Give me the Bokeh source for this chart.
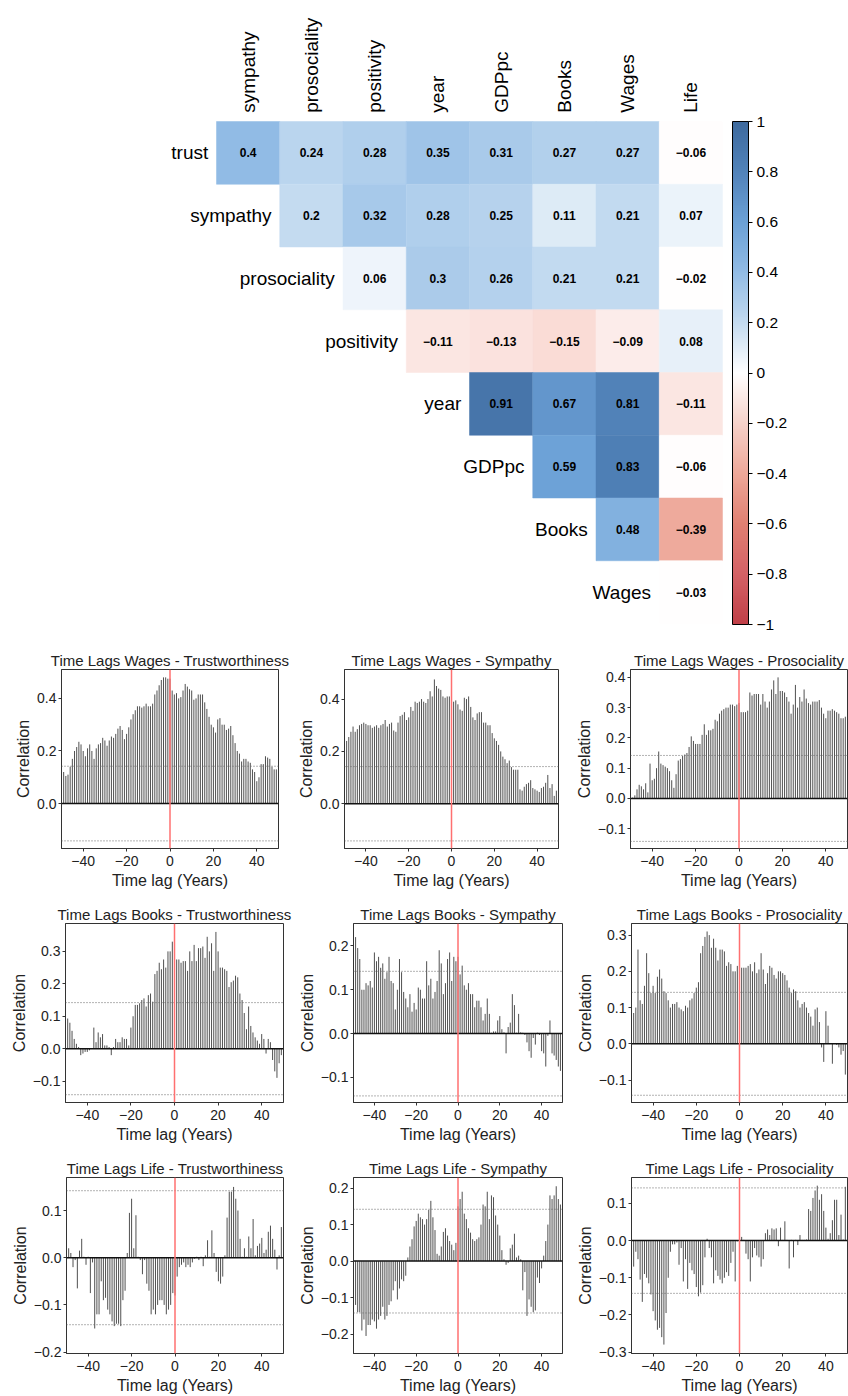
import numpy as np
from bokeh.plotting import figure
from bokeh.models import (ColumnDataSource, Range1d, LinearColorMapper, ColorBar,
                          FixedTicker, CustomJSTickFormatter, Span)
from bokeh.layouts import column, row
from bokeh.core.properties import value
from bokeh.embed import file_html
from bokeh.resources import INLINE

FONT = "Liberation Sans"

# ---------------- heatmap data ----------------
ROW_LABELS = ["trust", "sympathy", "prosociality", "positivity", "year", "GDPpc", "Books", "Wages"]
COL_LABELS = ["sympathy", "prosociality", "positivity", "year", "GDPpc", "Books", "Wages", "Life"]
corr_trust = [0.4, 0.24, 0.28, 0.35, 0.31, 0.27, 0.27, -0.06]
corr_sympathy = [0.2, 0.32, 0.28, 0.25, 0.11, 0.21, 0.07]
corr_prosociality = [0.06, 0.3, 0.26, 0.21, 0.21, -0.02]
corr_positivity = [-0.11, -0.13, -0.15, -0.09, 0.08]
corr_year = [0.91, 0.67, 0.81, -0.11]
corr_gdppc = [0.59, 0.83, -0.06]
corr_books = [0.48, -0.39]
corr_wages = [-0.03]
CORR_ROWS = [corr_trust, corr_sympathy, corr_prosociality, corr_positivity,
             corr_year, corr_gdppc, corr_books, corr_wages]
CB_TICKS = [-1, -0.8, -0.6, -0.4, -0.2, 0, 0.2, 0.4, 0.6, 0.8, 1]

# ---------------- lag panel data ----------------
LAGS = list(range(-49, 50))
SIG = 0.142
XTICKS = [-40, -20, 0, 20, 40]

wages_trust = [
    0.12, 0.105, 0.11, 0.14, 0.17, 0.20, 0.215, 0.235, 0.225, 0.20,
    0.18, 0.21, 0.225, 0.20, 0.17, 0.21, 0.225, 0.23, 0.25, 0.24,
    0.22, 0.24, 0.255, 0.25, 0.265, 0.285, 0.295, 0.28, 0.245, 0.265,
    0.29, 0.32, 0.34, 0.355, 0.37, 0.37, 0.365, 0.37, 0.38, 0.37,
    0.37, 0.38, 0.415, 0.43, 0.45, 0.47, 0.48, 0.48, 0.475,
    0.475, 0.43, 0.415, 0.42, 0.40, 0.405, 0.43, 0.455, 0.445, 0.435,
    0.43, 0.395, 0.40, 0.415, 0.415, 0.415, 0.385, 0.36, 0.33, 0.30,
    0.29, 0.27, 0.32, 0.325, 0.30, 0.30, 0.28, 0.285, 0.295, 0.26,
    0.23, 0.20, 0.19, 0.16, 0.17, 0.17, 0.16, 0.155, 0.13, 0.12,
    0.085, 0.10, 0.15, 0.15, 0.18, 0.175, 0.17, 0.14, 0.13, 0.13]
wages_sympathy = [
    0.24, 0.255, 0.275, 0.295, 0.275, 0.285, 0.30, 0.305, 0.31, 0.305,
    0.30, 0.30, 0.29, 0.295, 0.30, 0.29, 0.30, 0.305, 0.32, 0.295,
    0.305, 0.31, 0.28, 0.275, 0.31, 0.335, 0.34, 0.35, 0.32, 0.33,
    0.37, 0.355, 0.39, 0.385, 0.39, 0.40, 0.39, 0.385, 0.40, 0.43,
    0.41, 0.475, 0.45, 0.44, 0.435, 0.41, 0.405, 0.41, 0.41,
    0.405, 0.39, 0.395, 0.38, 0.36, 0.355, 0.405, 0.40, 0.41, 0.37,
    0.33, 0.32, 0.345, 0.35, 0.35, 0.31, 0.31, 0.30, 0.30, 0.27,
    0.25, 0.24, 0.225, 0.20, 0.18, 0.17, 0.155, 0.165, 0.14, 0.13,
    0.13, 0.13, 0.055, 0.05, 0.065, 0.075, 0.08, 0.09, 0.06, 0.055,
    0.05, 0.045, 0.06, 0.065, 0.08, 0.11, 0.06, 0.075, 0.03, 0.05]
wages_prosociality = [
    0.003, 0.01, 0.03, 0.045, 0.04, 0.03, 0.05, 0.02, 0.115, 0.06,
    0.065, 0.10, 0.155, 0.115, 0.11, 0.105, 0.10, 0.09, 0.06, 0.035,
    0.08, 0.125, 0.13, 0.14, 0.145, 0.15, 0.17, 0.205, 0.19, 0.18,
    0.18, 0.18, 0.21, 0.245, 0.21, 0.225, 0.225, 0.23, 0.26, 0.255,
    0.28, 0.29, 0.295, 0.30, 0.30, 0.31, 0.31, 0.305, 0.31,
    0.315, 0.285, 0.285, 0.285, 0.29, 0.35, 0.34, 0.345, 0.345, 0.345,
    0.31, 0.345, 0.32, 0.30, 0.32, 0.36, 0.39, 0.345, 0.40, 0.355,
    0.355, 0.35, 0.335, 0.32, 0.28, 0.31, 0.375, 0.30, 0.335, 0.32,
    0.36, 0.33, 0.315, 0.31, 0.32, 0.32, 0.32, 0.325, 0.30, 0.28,
    0.265, 0.29, 0.29, 0.295, 0.29, 0.285, 0.28, 0.265, 0.265, 0.27]
books_trust = [
    0.093, 0.08, 0.055, 0.03, 0.015, 0.005, -0.02, -0.015, -0.01, -0.01,
    -0.005, 0.002, 0.065, 0.02, 0.05, 0.035, 0.045, 0.01, 0.01, 0.005,
    -0.02, 0.005, 0.03, 0.02, 0.02, 0.035, 0.03, 0.03, 0.01, 0.065,
    0.10, 0.135, 0.135, 0.14, 0.15, 0.155, 0.13, 0.165, 0.17, 0.145,
    0.23, 0.24, 0.265, 0.245, 0.275, 0.25, 0.30, 0.30, 0.33,
    0.32, 0.275, 0.275, 0.265, 0.27, 0.27, 0.24, 0.30, 0.27, 0.32,
    0.27, 0.31, 0.31, 0.315, 0.28, 0.345, 0.30, 0.325, 0.24, 0.36,
    0.30, 0.25, 0.25, 0.245, 0.24, 0.19, 0.205, 0.21, 0.225, 0.22,
    0.17, 0.15, 0.11, 0.06, 0.13, 0.07, 0.05, 0.035, 0.025, 0.015,
    0.045, 0.03, -0.015, 0.03, 0.02, -0.035, -0.07, -0.09, -0.045, -0.02]
books_sympathy = [
    0.22, 0.195, 0.17, 0.10, 0.10, 0.115, 0.11, 0.12, 0.105, 0.185,
    0.165, 0.175, 0.15, 0.16, 0.125, 0.14, 0.175, 0.12, 0.115, 0.055,
    0.10, 0.17, 0.14, 0.095, 0.08, 0.06, 0.09, 0.05, 0.07, 0.055,
    0.105, 0.10, 0.08, 0.08, 0.165, 0.11, 0.125, 0.08, 0.095, 0.12,
    0.19, 0.16, 0.09, 0.115, 0.17, 0.185, 0.12, 0.175, 0.165,
    0.175, 0.135, 0.155, 0.11, 0.10, 0.115, 0.09, 0.09, 0.06, 0.075,
    0.075, 0.06, 0.03, 0.045, 0.08, 0.045, 0.002, 0.005, 0.005, 0.03,
    0.04, 0.01, 0.003, -0.045, 0.015, 0.025, 0.09, 0.065, 0.002, 0.045,
    0.003, 0.002, -0.003, -0.02, -0.04, -0.055, -0.01, -0.025, 0.002, -0.003,
    -0.04, -0.045, -0.075, -0.005, 0.03, -0.045, -0.05, -0.06, -0.075, -0.085]
books_prosociality = [
    0.085, 0.10, 0.26, 0.12, 0.11, 0.16, 0.25, 0.195, 0.14, 0.16,
    0.14, 0.185, 0.205, 0.18, 0.145, 0.14, 0.12, 0.10, 0.11, 0.11,
    0.115, 0.10, 0.095, 0.09, 0.105, 0.10, 0.12, 0.125, 0.14, 0.155,
    0.17, 0.25, 0.27, 0.295, 0.31, 0.30, 0.265, 0.29, 0.265, 0.23,
    0.26, 0.26, 0.255, 0.215, 0.225, 0.22, 0.20, 0.20, 0.215,
    0.215, 0.21, 0.21, 0.21, 0.215, 0.22, 0.20, 0.225, 0.195, 0.205,
    0.25, 0.205, 0.165, 0.195, 0.215, 0.21, 0.19, 0.18, 0.20, 0.20,
    0.195, 0.19, 0.175, 0.155, 0.14, 0.15, 0.145, 0.12, 0.10, 0.11,
    0.115, 0.10, 0.085, 0.075, 0.05, 0.095, 0.10, 0.06, -0.01, -0.05,
    0.09, 0.05, 0.002, -0.055, 0.002, -0.003, -0.01, -0.03, -0.02, -0.085]
life_trust = [
    0.02, 0.01, -0.02, -0.005, -0.065, 0.015, 0.04, 0.002, -0.015, 0.002,
    -0.075, -0.01, -0.15, -0.12, -0.12, -0.05, -0.09, -0.085, -0.11, -0.12,
    -0.135, -0.145, -0.14, -0.14, -0.145, -0.09, -0.07, 0.01, 0.095, 0.125,
    0.02, 0.09, 0.002, -0.005, -0.035, -0.005, -0.055, -0.07, -0.12, -0.11,
    -0.12, -0.10, -0.09, -0.09, -0.10, -0.12, -0.11, -0.10, -0.075,
    -0.08, -0.04, -0.02, -0.015, -0.01, -0.02, -0.015, -0.02, -0.01, -0.002,
    0.002, -0.005, 0.002, -0.018, 0.005, 0.037, 0.002, 0.058, 0.01, -0.03,
    -0.05, -0.055, -0.04, 0.005, 0.085, 0.14, 0.14, 0.15, 0.125, 0.10,
    0.04, 0.002, 0.02, 0.002, 0.045, 0.02, 0.082, 0.005, 0.025, 0.03,
    0.042, 0.01, 0.017, 0.055, 0.068, 0.04, 0.017, -0.025, 0.005, 0.065]
life_sympathy = [
    -0.12, -0.14, -0.14, -0.19, -0.16, -0.205, -0.175, -0.175, -0.16, -0.165,
    -0.185, -0.16, -0.15, -0.125, -0.16, -0.15, -0.12, -0.11, -0.08, -0.055,
    -0.105, -0.075, -0.05, -0.055, -0.04, 0.01, 0.04, 0.06, 0.095, 0.11,
    0.13, 0.12, 0.115, 0.10, 0.115, 0.14, 0.165, 0.12, 0.085, 0.02,
    0.015, 0.04, 0.08, 0.09, 0.07, 0.055, 0.045, 0.03, 0.05,
    0.15, 0.17, 0.19, 0.13, 0.115, 0.09, 0.078, 0.06, 0.055, 0.06,
    0.065, 0.10, 0.155, 0.15, 0.19, 0.115, 0.18, 0.175, 0.125, 0.10,
    0.07, 0.03, 0.005, -0.01, -0.005, 0.035, 0.045, 0.075, 0.01, 0.015,
    0.005, -0.08, -0.03, -0.15, -0.105, -0.125, -0.14, -0.135, -0.045, -0.06,
    -0.02, 0.015, 0.055, 0.10, 0.18, 0.17, 0.18, 0.205, 0.17, 0.155]
life_prosociality = [
    -0.07, -0.03, -0.05, -0.105, -0.165, -0.09, -0.10, -0.115, -0.145, -0.19,
    -0.215, -0.24, -0.235, -0.26, -0.28, -0.195, -0.10, -0.03, -0.01, -0.01,
    -0.005, -0.065, -0.02, -0.11, -0.05, -0.13, -0.06, -0.08, -0.09, -0.125,
    -0.15, -0.14, -0.12, -0.045, 0.005, -0.02, -0.045, -0.115, -0.08, -0.095,
    -0.105, -0.115, -0.10, -0.085, -0.095, -0.06, -0.03, -0.11, -0.002,
    0.015, 0.01, 0.002, -0.035, -0.05, -0.11, -0.045, -0.02, -0.04, -0.045,
    -0.07, -0.05, 0.02, 0.03, 0.015, 0.033, 0.03, 0.033, -0.015, 0.035,
    0.002, 0.052, 0.002, -0.075, 0.002, -0.045, 0.002, -0.012, 0.015, 0.002,
    0.002, 0.003, 0.085, 0.08, 0.115, 0.135, 0.148, 0.11, 0.125, 0.08,
    0.035, 0.005, 0.02, 0.055, 0.11, 0.11, 0.015, 0.07, 0.003, 0.145]

PANEL_TITLES = [
    "Time Lags Wages - Trustworthiness", "Time Lags Wages - Sympathy", "Time Lags Wages - Prosociality",
    "Time Lags Books - Trustworthiness", "Time Lags Books - Sympathy", "Time Lags Books - Prosociality",
    "Time Lags Life - Trustworthiness", "Time Lags Life - Sympathy", "Time Lags Life - Prosociality"]
PANEL_VALUES = [wages_trust, wages_sympathy, wages_prosociality,
                books_trust, books_sympathy, books_prosociality,
                life_trust, life_sympathy, life_prosociality]
PANEL_YRANGES = [(-0.171, 0.51), (-0.171, 0.513), (-0.1655, 0.426),
                 (-0.166, 0.386), (-0.157, 0.251), (-0.162, 0.332),
                 (-0.203, 0.170), (-0.253, 0.229), (-0.304, 0.170)]
PANEL_YTICKS = [[0.0, 0.2, 0.4], [0.0, 0.2, 0.4], [-0.1, 0.0, 0.1, 0.2, 0.3, 0.4],
                [-0.1, 0.0, 0.1, 0.2, 0.3], [-0.1, 0.0, 0.1, 0.2], [-0.1, 0.0, 0.1, 0.2, 0.3],
                [-0.2, -0.1, 0.0, 0.1], [-0.2, -0.1, 0.0, 0.1, 0.2], [-0.3, -0.2, -0.1, 0.0, 0.1]]

# ---------------- colour maps ----------------
# cells (slightly whiter near zero on the negative side, as in the picture)
STOPS = [-1.0, -0.8, -0.6, -0.4, -0.2, -0.15, -0.09, -0.065, 0.0,
         0.2, 0.4, 0.6, 0.8, 1.0]
STOP_RGB = [(192, 64, 72), (212, 98, 102), (224, 128, 114), (238, 168, 153), (246, 210, 202),
            (250, 221, 215), (252, 236, 234), (255, 253, 253), (255, 255, 255),
            (196, 219, 240), (146, 188, 229), (108, 161, 214), (82, 131, 186),
            (62, 106, 158)]
# colour bar (smooth ramp)
CB_STOPS = [-1.0, -0.8, -0.6, -0.4, -0.2, 0.0, 0.2, 0.4, 0.6, 0.8, 1.0]
CB_RGB = [(192, 64, 72), (212, 98, 102), (224, 128, 114), (238, 168, 153), (246, 210, 202),
          (255, 255, 255), (196, 219, 240), (146, 188, 229), (108, 161, 214), (82, 131, 186),
          (62, 106, 158)]


def ramp(stops, rgb, n=256):
    g = np.linspace(-1, 1, n)
    ch_ = [np.interp(g, stops, [c[k] for c in rgb]) for k in range(3)]
    return ["#%02x%02x%02x" % (int(round(r)), int(round(gg)), int(round(b)))
            for r, gg, b in zip(*ch_)]


mapper = LinearColorMapper(palette=ramp(STOPS, STOP_RGB), low=-1, high=1)
cb_mapper = LinearColorMapper(palette=ramp(CB_STOPS, CB_RGB), low=-1, high=1)


def fmt(v):
    return f"{v:g}".replace("-", "\u2212")


# ---------------- heatmap figure ----------------
HW, HH = 848, 648
cw, ch = 63.25, 62.75
x0px, y0px = 216, 121
heat = figure(width=HW, height=HH, output_backend="svg", toolbar_location=None,
              x_range=Range1d(-x0px / cw, (HW - x0px) / cw),
              y_range=Range1d((HH - y0px) / ch, -y0px / ch),
              min_border=0, min_border_left=0, min_border_right=0,
              min_border_top=0, min_border_bottom=0)
heat.axis.visible = False
heat.grid.visible = False
heat.outline_line_color = None

cx, cy, cv, ct = [], [], [], []
for i, rv in enumerate(CORR_ROWS):
    for k, v in enumerate(rv):
        j = i + k
        cx.append(j + 0.5)
        cy.append(i + 0.5)
        cv.append(v)
        ct.append(fmt(v))
csrc = ColumnDataSource(dict(x=cx, y=cy, v=cv, t=ct))
heat.rect(x="x", y="y", width=1, height=1, source=csrc,
          fill_color={"field": "v", "transform": mapper},
          line_color={"field": "v", "transform": mapper}, line_width=0.5)
heat.text(x="x", y="y", text="t", source=csrc, text_align="center", text_baseline="middle",
          text_font=value(FONT), text_font_style="bold", text_font_size="12px",
          text_color="black")

rsrc = ColumnDataSource(dict(x=[i - 0.13 for i in range(len(ROW_LABELS))],
                             y=[i + 0.5 for i in range(len(ROW_LABELS))],
                             t=ROW_LABELS))
heat.text(x="x", y="y", text="t", source=rsrc, text_align="right", text_baseline="middle",
          text_font=value(FONT), text_font_size="19px", text_color="black")
csrc2 = ColumnDataSource(dict(x=[j + 0.5 for j in range(len(COL_LABELS))],
                              y=[-0.14] * len(COL_LABELS), t=COL_LABELS))
heat.text(x="x", y="y", text="t", source=csrc2, angle=np.pi / 2, text_align="left",
          text_baseline="middle", text_font=value(FONT), text_font_size="19px",
          text_color="black")

cb = ColorBar(color_mapper=cb_mapper, location=(732, 24), width=16, height=503,
              padding=0, margin=0, orientation="vertical",
              ticker=FixedTicker(ticks=CB_TICKS),
              formatter=CustomJSTickFormatter(code="""
                  const v = Math.round(tick * 10) / 10;
                  return (v < 0 ? '\\u2212' : '') + String(Math.abs(v));"""),
              major_label_text_font=FONT, major_label_text_font_size="15.5px",
              major_label_text_color="black",
              major_tick_in=0, major_tick_out=4, major_tick_line_color="black",
              minor_tick_line_color=None,
              bar_line_color="black", bar_line_width=1, label_standoff=4,
              background_fill_alpha=0, border_line_color=None)
heat.add_layout(cb, "center")

# ---------------- lag panels ----------------
COL_W = [295, 277, 276]
ROW_H = [250, 250, 248]
BORDERS_LR = [[(61, 17), (46, 14), (58, 1)],
              [(65, 12), (50, 10), (59, 1)],
              [(66, 12), (50, 10), (59, 1)]]
BORDERS_TB = [(20, 50), (25, 46), (29, 42)]

yfmt_code = "return (tick < -1e-9 ? '\\u2212' : '') + Math.abs(tick).toFixed(1);"


def lag_panel(idx, r, c):
    bl, br = BORDERS_LR[r][c]
    bt, bb = BORDERS_TB[r]
    y0, y1 = PANEL_YRANGES[idx]
    p = figure(width=COL_W[c], height=ROW_H[r], output_backend="svg", toolbar_location=None,
               x_range=Range1d(-50, 50), y_range=Range1d(y0, y1),
               min_border_left=bl, min_border_right=br, min_border_top=bt, min_border_bottom=bb,
               title=PANEL_TITLES[idx])
    src = ColumnDataSource(dict(lag=LAGS, val=PANEL_VALUES[idx]))
    p.segment(x0="lag", y0=0, x1="lag", y1="val", source=src, line_color="#505050",
              line_width=1)
    p.add_layout(Span(location=SIG, dimension="width", line_color="#666666",
                      line_dash="1 2", line_width=1))
    p.add_layout(Span(location=-SIG, dimension="width", line_color="#666666",
                      line_dash="1 2", line_width=1))
    p.add_layout(Span(location=0, dimension="width", line_color="#111111", line_width=1.5))
    p.add_layout(Span(location=0, dimension="height", line_color="#ff7070", line_width=1.5))
    p.grid.visible = False
    p.outline_line_color = "#333333"
    p.outline_line_width = 1
    p.title.text_font = FONT
    p.title.text_font_size = "15px"
    p.title.text_font_style = "normal"
    p.title.text_color = "#222222"
    p.title.align = "center"
    p.title.standoff = 2
    p.xaxis.ticker = FixedTicker(ticks=XTICKS)
    p.yaxis.ticker = FixedTicker(ticks=PANEL_YTICKS[idx])
    p.yaxis.formatter = CustomJSTickFormatter(code=yfmt_code)
    p.xaxis.axis_label = "Time lag (Years)"
    p.yaxis.axis_label = "Correlation"
    for ax in (p.xaxis[0], p.yaxis[0]):
        ax.axis_label_text_font = FONT
        ax.axis_label_text_font_size = "16px"
        ax.axis_label_text_font_style = "normal"
        ax.axis_label_text_color = "#222222"
        ax.major_label_text_font = FONT
        ax.major_label_text_font_size = "14px"
        ax.major_label_text_color = "#222222"
        ax.major_tick_in = 0
        ax.major_tick_out = 3
        ax.major_tick_line_color = "#333333"
        ax.minor_tick_line_color = None
        ax.axis_line_color = "#333333"
    p.xaxis.major_label_standoff = 4
    p.xaxis.axis_label_standoff = 3
    p.yaxis.major_label_standoff = 2
    p.yaxis.axis_label_standoff = 2
    return p


rows = []
for r in range(3):
    rows.append(row(*[lag_panel(r * 3 + c, r, c) for c in range(3)]))

layout = column(heat, *rows)

with open("out.html", "w", encoding="utf-8") as f:
    f.write(file_html(layout, INLINE))
